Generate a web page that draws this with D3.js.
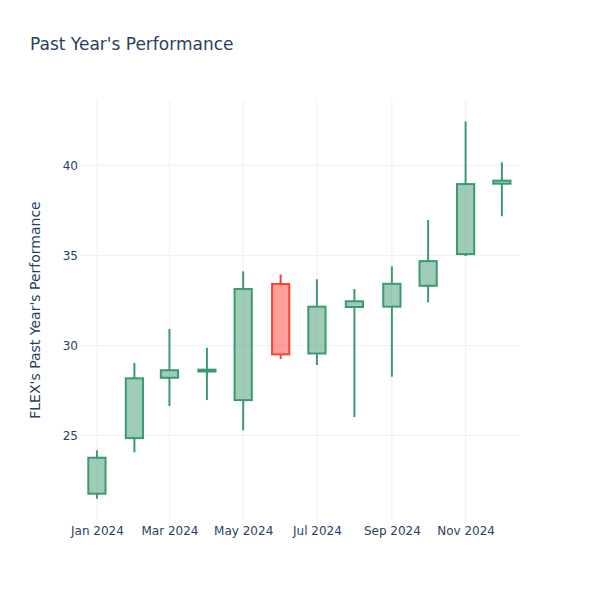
<!DOCTYPE html>
<html><head><meta charset="utf-8">
<script src="https://cdn.jsdelivr.net/npm/d3@7"></script>
<style>body{margin:0;background:#fff}svg{font-family:"DejaVu Sans",sans-serif}</style>
</head><body>
<script>
const dates = ["2024-01-01","2024-02-01","2024-03-01","2024-04-01","2024-05-01","2024-06-01","2024-07-01","2024-08-01","2024-09-01","2024-10-01","2024-11-01","2024-12-01"];
const open  = [21.76, 24.85, 28.20, 28.55, 26.96, 33.41, 29.55, 32.13, 32.15, 33.31, 35.07, 38.98];
const high  = [24.17, 29.02, 30.91, 29.87, 34.11, 33.94, 33.67, 33.13, 34.39, 36.96, 42.44, 40.17];
const low   = [21.48, 24.06, 26.63, 26.96, 25.28, 29.24, 28.91, 26.02, 28.26, 32.39, 34.96, 37.17];
const close = [23.76, 28.17, 28.62, 28.65, 33.13, 29.50, 32.15, 32.45, 33.42, 34.68, 38.96, 39.15];
const yTicks = [25, 30, 35, 40];
const xTicks = ["2024-01-01","2024-03-01","2024-05-01","2024-07-01","2024-09-01","2024-11-01"];
const title = "Past Year's Performance";
const yTitle = "FLEX's Past Year's Performance";

const W = 600, H = 600, m = {l:80, r:80, t:100, b:80};
const parse = d3.utcParse("%Y-%m-%d");
const svg = d3.select("body").append("svg").attr("width", W).attr("height", H);

const x = d3.scaleUtc()
  .domain([parse("2023-12-18"), parse("2024-12-16")])
  .range([m.l, W - m.r]);
const y = d3.scaleLinear().domain([20.3, 43.63]).range([H - m.b, m.t]);

const grid = "#EBF0F8", txt = "#2a3f5f";
svg.append("g").selectAll("line").data(xTicks).join("line")
  .attr("x1", d => x(parse(d))).attr("x2", d => x(parse(d)))
  .attr("y1", m.t).attr("y2", H - m.b).attr("stroke", grid).attr("stroke-width", 1);
svg.append("g").selectAll("line").data(yTicks).join("line")
  .attr("x1", m.l).attr("x2", W - m.r)
  .attr("y1", d => y(d)).attr("y2", d => y(d)).attr("stroke", grid).attr("stroke-width", 1);

const yAxis = d3.axisLeft(y).tickValues(yTicks).tickSize(0).tickPadding(2);
const gy = svg.append("g").attr("transform", `translate(${m.l},0)`).call(yAxis);
gy.select(".domain").remove();
gy.selectAll("text").attr("fill", txt).attr("font-size", 12).attr("font-family", "DejaVu Sans");

const fmt = d3.utcFormat("%b %Y");
const xAxis = d3.axisBottom(x).tickValues(xTicks.map(parse)).tickFormat(fmt).tickSize(0).tickPadding(6);
const gx = svg.append("g").attr("transform", `translate(0,${H - m.b})`).call(xAxis);
gx.select(".domain").remove();
gx.selectAll("text").attr("fill", txt).attr("font-size", 12).attr("font-family", "DejaVu Sans");

const data = dates.map((d, i) => ({date: parse(d), o: open[i], h: high[i], l: low[i], c: close[i]}));
const step = x(parse(dates[1])) - x(parse(dates[0]));
const bw = step * 0.46;
const inc = {stroke: "#3D9970", fill: "rgba(61,153,112,0.5)"};
const dec = {stroke: "#FF4136", fill: "rgba(255,65,54,0.5)"};

const g = svg.append("g");
data.forEach(d => {
  const s = d.c >= d.o ? inc : dec;
  const cx = x(d.date);
  const top = y(Math.max(d.o, d.c)), bot = y(Math.min(d.o, d.c));
  g.append("line").attr("x1", cx).attr("x2", cx).attr("y1", y(d.h)).attr("y2", top)
    .attr("stroke", s.stroke).attr("stroke-width", 2);
  g.append("line").attr("x1", cx).attr("x2", cx).attr("y1", bot).attr("y2", y(d.l))
    .attr("stroke", s.stroke).attr("stroke-width", 2);
  g.append("rect").attr("x", cx - bw/2).attr("width", bw)
    .attr("y", top).attr("height", Math.max(bot - top, 0.5))
    .attr("fill", s.fill).attr("stroke", s.stroke).attr("stroke-width", 2);
});

svg.append("text").attr("x", 30).attr("y", 50).attr("fill", txt)
  .attr("font-size", 17).text(title);
svg.append("text").attr("transform", `translate(40,${(m.t + H - m.b)/2}) rotate(-90)`)
  .attr("text-anchor", "middle").attr("fill", txt).attr("font-size", 14).text(yTitle);
</script>
</body></html>
